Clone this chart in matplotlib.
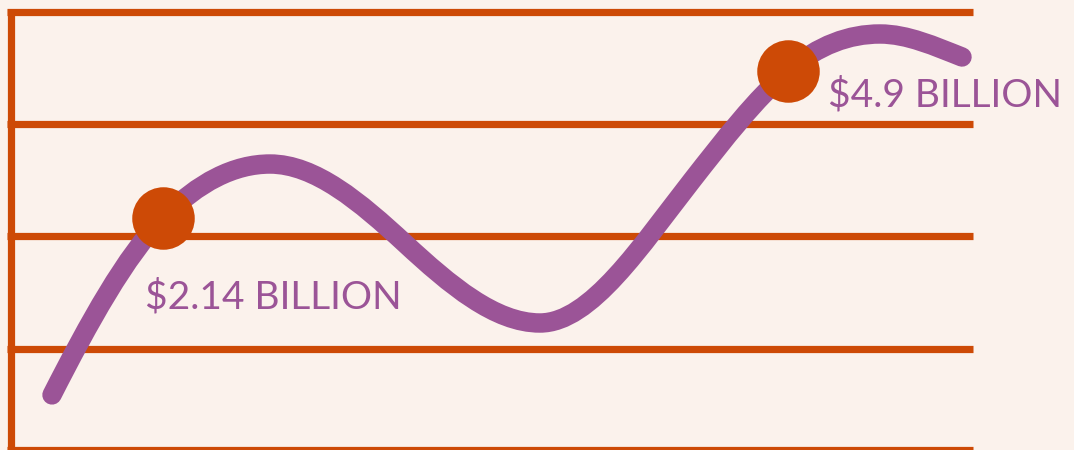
import matplotlib
matplotlib.use("Agg")
import matplotlib.pyplot as plt
from matplotlib.path import Path
from matplotlib.patches import PathPatch

# colours
bg = "#FBF2EC"
orange = "#CD4A06"
purple = "#9B5497"

# curve anchors (x in hundreds of px, y in grid units)
# with the slope of the curve at each anchor
curve_x = [0.52, 1.63, 2.70, 4.05, 5.40, 6.92, 7.88, 8.80, 9.62]
curve_y = [0.488, 2.065, 2.546, 1.838, 1.129, 2.40, 3.375, 3.705, 3.50]
curve_slope = [1.75, 0.90, 0.0, -0.824, 0.0, 1.14, 0.76, 0.0, -0.35]

# highlighted points and their labels
dot_x = [1.63, 7.88]
dot_y = [2.065, 3.375]
labels = ["$2.14 BILLION", "$4.9 BILLION"]

grid_y = [0.90, 1.905, 2.906, 3.90]

fig = plt.figure(figsize=(10.74, 4.5), dpi=100, facecolor=bg)
ax = fig.add_axes([0, 0, 1, 1])
ax.set_facecolor(bg)
ax.set_xlim(0, 10.74)
ax.set_ylim(-0.003, 4.008)
ax.axis("off")

# grid and frame
ax.hlines(grid_y, 0.07, 9.73, color=orange, lw=5.2, zorder=1)
ax.hlines([0.0], 0.07, 9.73, color=orange, lw=5.2, zorder=1)
ax.vlines([0.105], -0.05, 3.93, color=orange, lw=5.2, zorder=1)

# smooth curve: hermite segments between anchors, drawn as beziers
verts = [(curve_x[0], curve_y[0])]
codes = [Path.MOVETO]
for i in range(len(curve_x) - 1):
    k = (curve_x[i + 1] - curve_x[i]) / 3
    verts += [(curve_x[i] + k, curve_y[i] + curve_slope[i] * k),
              (curve_x[i + 1] - k, curve_y[i + 1] - curve_slope[i + 1] * k),
              (curve_x[i + 1], curve_y[i + 1])]
    codes += [Path.CURVE4] * 3
ax.add_patch(PathPatch(Path(verts, codes), fc="none", ec=purple, lw=14,
                       capstyle="round", joinstyle="round", zorder=2))

# dots
ax.plot(dot_x, dot_y, "o", color=orange, ms=45, mec="none", zorder=3)

ax.text(1.45, 1.254, labels[0], color=purple, fontsize=28, family="Lato",
        ha="left", va="baseline", zorder=4)
ax.text(8.28, 3.063, labels[1], color=purple, fontsize=28, family="Lato",
        ha="left", va="baseline", zorder=4)

fig.savefig("out.png", dpi=100, facecolor=bg)
